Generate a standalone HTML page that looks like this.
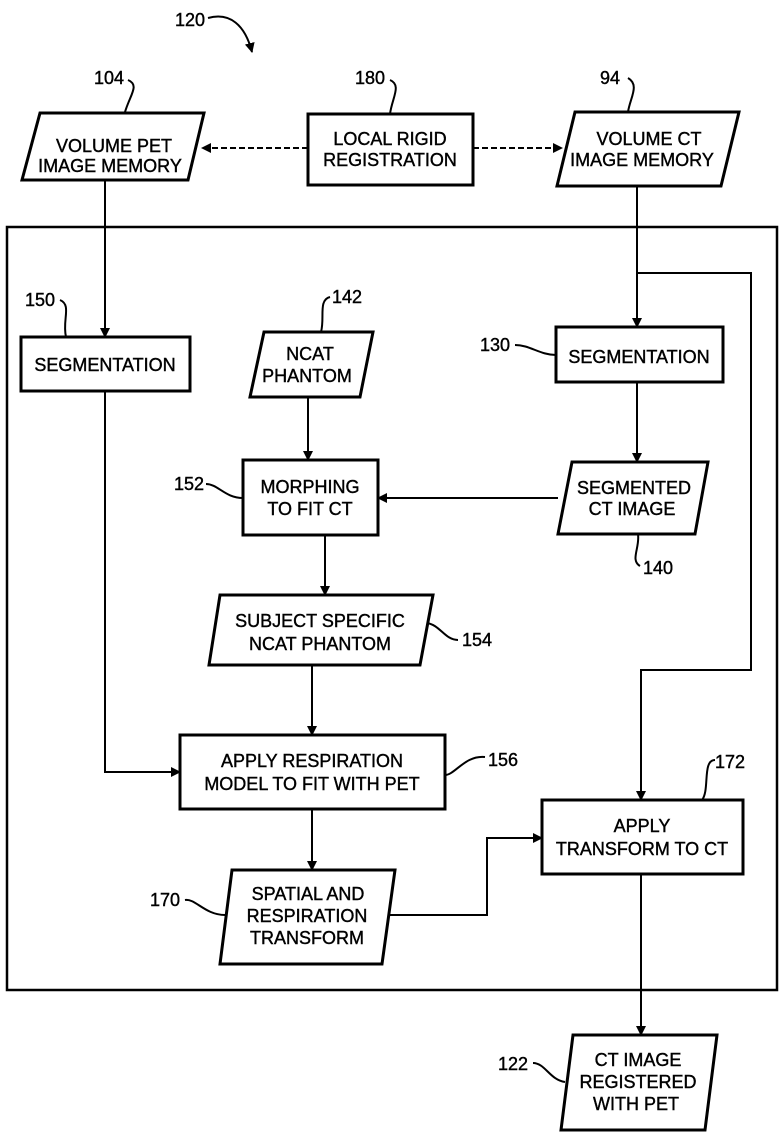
<!DOCTYPE html>
<html><head><style>
html,body{margin:0;padding:0;background:#fff;}
svg{display:block;}
text{font-family:"Liberation Sans",sans-serif;font-size:18px;fill:#000;stroke:#000;stroke-width:0.4;text-anchor:middle;}
.l{font-size:18px;text-anchor:start;}
</style></head><body>
<svg width="781" height="1134" viewBox="0 0 781 1134" xmlns="http://www.w3.org/2000/svg">
<defs>
<marker id="a" markerWidth="10" markerHeight="10" refX="9" refY="5" orient="auto" markerUnits="userSpaceOnUse">
<path d="M0,0 L10,5 L0,10 Z" fill="#000"/></marker>
</defs>
<g fill="none" stroke="#000" stroke-width="3">
<rect x="7" y="227" width="770" height="763" stroke-width="2.5"/>
<polygon points="40,113 204,113 188,180 22,180"/>
<rect x="308" y="114" width="165" height="71"/>
<polygon points="575,112 739,112 721,186 557,186"/>
<rect x="21" y="337" width="169" height="54"/>
<polygon points="264,332 373,332 360,397 250,397"/>
<rect x="556" y="327" width="167" height="55"/>
<rect x="243" y="460" width="135" height="75"/>
<polygon points="572,462 708,462 695,534 558,534"/>
<polygon points="220,595 433,595 420,665 209,665"/>
<rect x="180" y="735" width="265" height="74"/>
<polygon points="232,870 395,870 382,964 220,964"/>
<rect x="542" y="800" width="201" height="74"/>
<polygon points="573,1035 717,1035 705,1130 561,1130"/>
</g>
<g fill="none" stroke="#000" stroke-width="2">
<line x1="308" y1="148" x2="202" y2="148" stroke-dasharray="6,3" marker-end="url(#a)"/>
<line x1="473" y1="148" x2="562" y2="148" stroke-dasharray="6,3" marker-end="url(#a)"/>
<line x1="105" y1="180" x2="105" y2="337" marker-end="url(#a)"/>
<line x1="637" y1="186" x2="637" y2="327" marker-end="url(#a)"/>
<polyline points="637,273 751,273 751,670 641,670 641,800" marker-end="url(#a)"/>
<line x1="637" y1="382" x2="637" y2="462" marker-end="url(#a)"/>
<line x1="558" y1="498" x2="378" y2="498" marker-end="url(#a)"/>
<line x1="308" y1="397" x2="308" y2="460" marker-end="url(#a)"/>
<line x1="325" y1="535" x2="325" y2="595" marker-end="url(#a)"/>
<line x1="312" y1="665" x2="312" y2="735" marker-end="url(#a)"/>
<polyline points="105,391 105,772 180,772" marker-end="url(#a)"/>
<line x1="312" y1="809" x2="312" y2="870" marker-end="url(#a)"/>
<polyline points="389,915 487,915 487,838 542,838" marker-end="url(#a)"/>
<line x1="641" y1="874" x2="641" y2="1035" marker-end="url(#a)"/>
<path d="M208,18 C230,12 245,25 252,52" marker-end="url(#a)"/>
<path d="M128,80 C140,85 130,95 125,112"/>
<path d="M390,80 C402,85 392,98 390,114"/>
<path d="M628,78 C640,85 630,98 628,112"/>
<path d="M60,300 C72,305 62,320 66,337"/>
<path d="M330,297 C318,300 325,318 321,332"/>
<path d="M515,345 C530,345 540,355 556,355"/>
<path d="M206,484 C218,484 225,498 243,498"/>
<path d="M638,534 C640,548 630,560 640,566"/>
<path d="M427,623 C440,625 445,640 458,640"/>
<path d="M445,775 C455,775 465,755 485,757"/>
<path d="M715,760 C702,760 710,790 702,800"/>
<path d="M185,900 C195,898 205,915 225,915"/>
<path d="M533,1063 C545,1063 550,1080 565,1082"/>
</g>
<text x="114" y="152">VOLUME PET</text>
<text x="110" y="172">IMAGE MEMORY</text>
<text x="390" y="145">LOCAL RIGID</text>
<text x="390" y="166">REGISTRATION</text>
<text x="649" y="145">VOLUME CT</text>
<text x="642" y="166">IMAGE MEMORY</text>
<text x="105" y="371">SEGMENTATION</text>
<text x="310" y="360">NCAT</text>
<text x="307" y="382">PHANTOM</text>
<text x="639" y="363">SEGMENTATION</text>
<text x="310" y="493">MORPHING</text>
<text x="310" y="515">TO FIT CT</text>
<text x="634" y="494">SEGMENTED</text>
<text x="632" y="515">CT IMAGE</text>
<text x="320" y="627">SUBJECT SPECIFIC</text>
<text x="320" y="650">NCAT PHANTOM</text>
<text x="312" y="767">APPLY RESPIRATION</text>
<text x="312" y="790">MODEL TO FIT WITH PET</text>
<text x="308" y="900">SPATIAL AND</text>
<text x="307" y="922">RESPIRATION</text>
<text x="307" y="944">TRANSFORM</text>
<text x="642" y="832">APPLY</text>
<text x="642" y="855">TRANSFORM TO CT</text>
<text x="638" y="1066">CT IMAGE</text>
<text x="638" y="1088">REGISTERED</text>
<text x="636" y="1110">WITH PET</text>
<text class="l" x="175" y="26">120</text>
<text class="l" x="94" y="84">104</text>
<text class="l" x="355" y="84">180</text>
<text class="l" x="600" y="84">94</text>
<text class="l" x="25" y="306">150</text>
<text class="l" x="332" y="303">142</text>
<text class="l" x="480" y="351">130</text>
<text class="l" x="174" y="490">152</text>
<text class="l" x="643" y="574">140</text>
<text class="l" x="462" y="646">154</text>
<text class="l" x="488" y="766">156</text>
<text class="l" x="715" y="768">172</text>
<text class="l" x="150" y="906">170</text>
<text class="l" x="498" y="1070">122</text>
</svg>
</body></html>
